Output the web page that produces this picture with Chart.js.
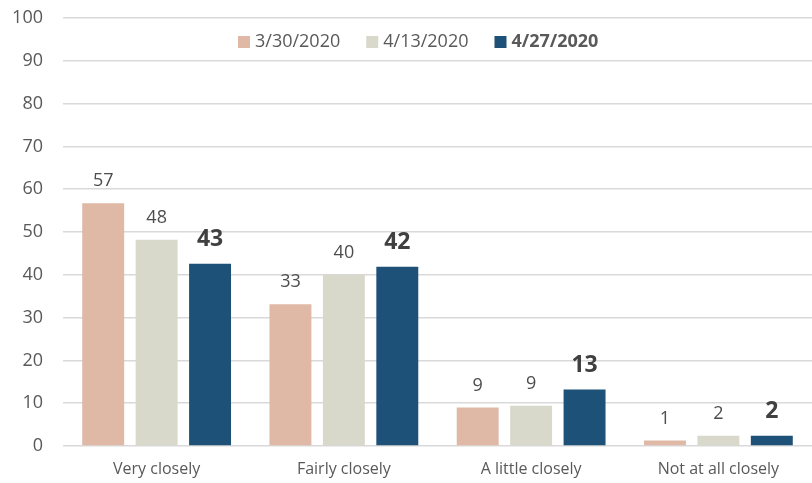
<!DOCTYPE html>
<html>
<head>
<meta charset="utf-8">
<script src="https://cdn.jsdelivr.net/npm/chart.js@4.4.1/dist/chart.umd.min.js"></script>
<style>
  html, body { margin: 0; padding: 0; background: #fff; }
  #wrap { width: 812px; height: 483px; }
</style>
</head>
<body>
<div id="wrap"><canvas id="barChart" width="812" height="483"></canvas></div>
<script>
const categories = ['Very closely', 'Fairly closely', 'A little closely', 'Not at all closely'];
const seriesNames = ['3/30/2020', '4/13/2020', '4/27/2020'];
const march30 = [56.7, 33.1, 9.0, 1.3];
const april13 = [48.2, 40.0, 9.4, 2.4];
const april27 = [42.6, 41.9, 13.2, 2.4];
const labels30 = ['57', '33', '9', '1'];
const labels13 = ['48', '40', '9', '2'];
const labels27 = ['43', '42', '13', '2'];
const yTicks = [0, 10, 20, 30, 40, 50, 60, 70, 80, 90, 100];

const colors = ['#dfb9a6', '#d8d9cb', '#1d5178'];
const fontFamily = '"Open Sans", "Noto Sans", sans-serif';

// value labels above each bar, last series in bold
const barLabels = {
    id: 'barLabels',
    afterDatasetsDraw(chart) {
        const ctx = chart.ctx;
        const texts = [labels30, labels13, labels27];
        ctx.save();
        ctx.textAlign = 'center';
        ctx.textBaseline = 'bottom';
        chart.data.datasets.forEach((ds, i) => {
            const meta = chart.getDatasetMeta(i);
            meta.data.forEach((bar, j) => {
                if (i === 2) {
                    ctx.font = 'bold 23px ' + fontFamily;
                    ctx.fillStyle = '#404040';
                    ctx.fillText(texts[i][j], bar.x, bar.y - 13);
                } else {
                    ctx.font = '18px ' + fontFamily;
                    ctx.fillStyle = '#4d4d4d';
                    ctx.fillText(texts[i][j], bar.x, bar.y - 13);
                }
            });
        });
        ctx.restore();
    }
};

// legend sits inside the plot area, last entry bold
const insideLegend = {
    id: 'insideLegend',
    afterDraw(chart) {
        const ctx = chart.ctx;
        const y = 42;
        let x = 238;
        ctx.save();
        ctx.textBaseline = 'middle';
        ctx.textAlign = 'left';
        seriesNames.forEach((name, i) => {
            ctx.fillStyle = colors[i];
            ctx.fillRect(x, y - 6, 12, 12);
            ctx.font = (i === 2 ? 'bold ' : '') + '18px ' + fontFamily;
            ctx.fillStyle = '#595959';
            ctx.fillText(name, x + 17, y);
            x += 17 + ctx.measureText(name).width + 26;
        });
        ctx.restore();
    }
};

const ctx = document.getElementById('barChart').getContext('2d');
new Chart(ctx, {
    type: 'bar',
    data: {
        labels: categories,
        datasets: [
            { label: seriesNames[0], data: march30, backgroundColor: colors[0] },
            { label: seriesNames[1], data: april13, backgroundColor: colors[1] },
            { label: seriesNames[2], data: april27, backgroundColor: colors[2] }
        ]
    },
    options: {
        responsive: false,
        animation: false,
        maintainAspectRatio: false,
        layout: { padding: { top: 18, right: 0, left: 0, bottom: 0 } },
        datasets: {
            bar: { barPercentage: 0.785, categoryPercentage: 0.856 }
        },
        plugins: {
            legend: { display: false },
            tooltip: { enabled: false }
        },
        scales: {
            x: {
                grid: { display: false },
                border: { display: false },
                ticks: {
                    color: '#595959',
                    font: { family: fontFamily, size: 16 },
                    padding: 6
                },
                afterFit(scale) { scale.height = 37; }
            },
            y: {
                min: 0,
                max: 100,
                afterBuildTicks(scale) { scale.ticks = yTicks.map(v => ({ value: v })); },
                grid: {
                    color: '#d9d9d9',
                    lineWidth: 1.5,
                    drawTicks: false
                },
                border: { display: false },
                ticks: {
                    color: '#595959',
                    font: { family: fontFamily, size: 18 },
                    padding: 20
                },
                afterFit(scale) {
                    scale.width = 63;
                    scale.paddingTop = 10;
                    scale.paddingBottom = 10;
                }
            }
        }
    },
    plugins: [barLabels, insideLegend]
});
</script>
</body>
</html>
